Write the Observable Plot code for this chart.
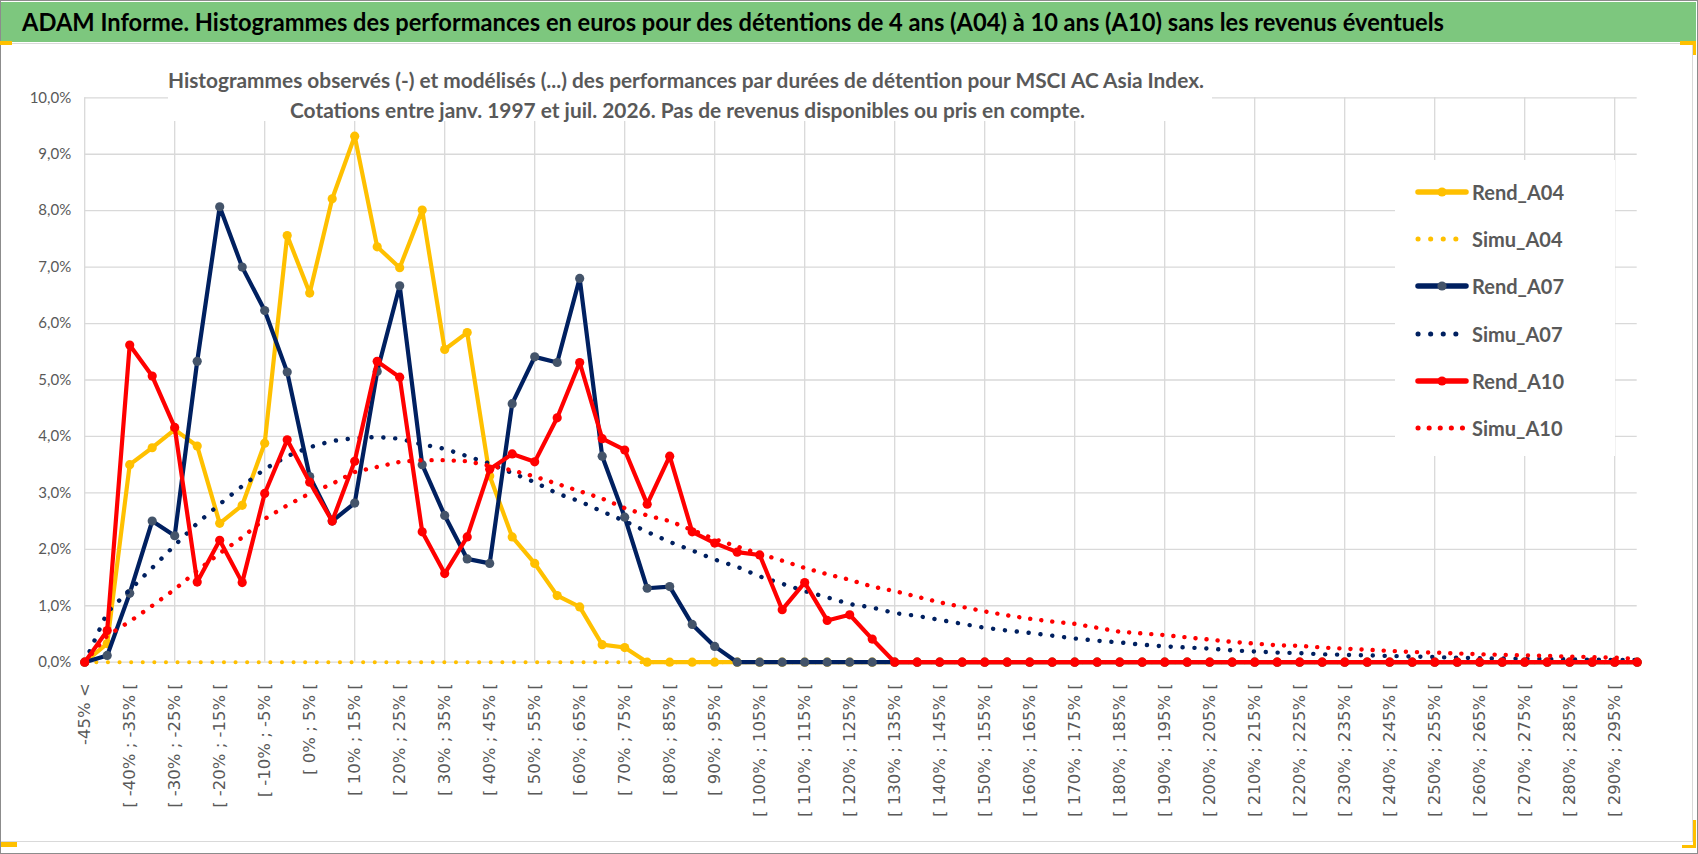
<!DOCTYPE html>
<html>
<head>
<meta charset="utf-8">
<script src="https://cdn.jsdelivr.net/npm/d3@7"></script>
<script src="https://cdn.jsdelivr.net/npm/@observablehq/plot@0.6"></script>
<style>
  html, body { margin: 0; padding: 0; background: #fff; }
  #wrap { position: relative; width: 1698px; height: 854px; overflow: hidden; background: #fff; }
  #chart { position: absolute; left: 0; top: 0; }
  .abs { position: absolute; }
  .txt { position: absolute; white-space: nowrap; display: inline-block; }
</style>
</head>
<body>
<div id="wrap">
  <div id="chart"></div>
  <div class="abs" id="greenbar" style="left:1px;top:2px;width:1695px;height:40px;background:#7DC77E;"></div>
  <span class="txt" id="title" style="left:22px;top:6px;font:bold 25px Lato,'Open Sans',sans-serif;line-height:30px;color:#000;">ADAM Informe. Histogrammes des performances en euros pour des détentions de 4 ans (A04) à 10 ans (A10) sans les revenus éventuels</span>
  <div class="abs" id="subbox" style="left:168px;top:56px;width:1044px;height:65px;background:#fff;"></div>
  <span class="txt" id="sub1" style="left:168px;top:68px;font:bold 20px Lato,'Open Sans',sans-serif;line-height:24px;color:#595959;">Histogrammes observés (-) et modélisés (...) des performances par durées de détention pour MSCI AC Asia Index.</span>
  <span class="txt" id="sub2" style="left:290px;top:98px;font:bold 20px Lato,'Open Sans',sans-serif;line-height:24px;color:#595959;">Cotations entre janv. 1997 et juil. 2026. Pas de revenus disponibles ou pris en compte.</span>
  <div class="abs" id="legend" style="left:1395px;top:160px;width:220px;height:296px;background:#fff;"></div>
  <div class="abs" style="left:1px;top:43px;width:1692px;height:799px;border:1.5px solid #D9D9D9;box-sizing:border-box;border-left:none;"></div>
  <div class="abs" style="left:0;top:0;width:1698px;height:854px;border:1.5px solid #8C8C8C;box-sizing:border-box;"></div>
  <div class="abs" style="left:0;top:41px;width:12px;height:4px;background:#FFC000;"></div>
  <div class="abs" style="left:1680px;top:41px;width:16px;height:3.5px;background:#FFC000;"></div>
  <div class="abs" style="left:1692.5px;top:41px;width:3.5px;height:14px;background:#FFC000;"></div>
  <div class="abs" style="left:1px;top:842px;width:16px;height:5px;background:#FFC000;"></div>
  <div class="abs" style="left:1692.5px;top:820px;width:3.5px;height:28px;background:#FFC000;"></div>
  <div class="abs" style="left:1682px;top:844.5px;width:14px;height:3.5px;background:#FFC000;"></div>
</div>
<script>
// ---------- DATA ----------
const categories = [
  "-45% <",
  "[ -45% ; -40% [", "[ -40% ; -35% [", "[ -35% ; -30% [", "[ -30% ; -25% [", "[ -25% ; -20% [",
  "[ -20% ; -15% [", "[ -15% ; -10% [", "[ -10% ; -5% [", "[ -5% ; 0% [", "[ 0% ; 5% [",
  "[ 5% ; 10% [", "[ 10% ; 15% [", "[ 15% ; 20% [", "[ 20% ; 25% [", "[ 25% ; 30% [",
  "[ 30% ; 35% [", "[ 35% ; 40% [", "[ 40% ; 45% [", "[ 45% ; 50% [", "[ 50% ; 55% [",
  "[ 55% ; 60% [", "[ 60% ; 65% [", "[ 65% ; 70% [", "[ 70% ; 75% [", "[ 75% ; 80% [",
  "[ 80% ; 85% [", "[ 85% ; 90% [", "[ 90% ; 95% [", "[ 95% ; 100% [", "[ 100% ; 105% [",
  "[ 105% ; 110% [", "[ 110% ; 115% [", "[ 115% ; 120% [", "[ 120% ; 125% [", "[ 125% ; 130% [",
  "[ 130% ; 135% [", "[ 135% ; 140% [", "[ 140% ; 145% [", "[ 145% ; 150% [", "[ 150% ; 155% [",
  "[ 155% ; 160% [", "[ 160% ; 165% [", "[ 165% ; 170% [", "[ 170% ; 175% [", "[ 175% ; 180% [",
  "[ 180% ; 185% [", "[ 185% ; 190% [", "[ 190% ; 195% [", "[ 195% ; 200% [", "[ 200% ; 205% [",
  "[ 205% ; 210% [", "[ 210% ; 215% [", "[ 215% ; 220% [", "[ 220% ; 225% [", "[ 225% ; 230% [",
  "[ 230% ; 235% [", "[ 235% ; 240% [", "[ 240% ; 245% [", "[ 245% ; 250% [", "[ 250% ; 255% [",
  "[ 255% ; 260% [", "[ 260% ; 265% [", "[ 265% ; 270% [", "[ 270% ; 275% [", "[ 275% ; 280% [",
  "[ 280% ; 285% [", "[ 285% ; 290% [", "[ 290% ; 295% [", "[ 295% ; 300% ["
];

const rendA04 = [
  0, 0.33, 3.50, 3.80, 4.12, 3.83, 2.46, 2.78, 3.88, 7.56,
  6.54, 8.21, 9.32, 7.36, 6.99, 8.01, 5.54, 5.84, 3.30, 2.22,
  1.75, 1.18, 0.98, 0.31, 0.26, 0, 0, 0, 0, 0,
  0, 0, 0, 0, 0, 0, 0, 0, 0, 0,
  0, 0, 0, 0, 0, 0, 0, 0, 0, 0,
  0, 0, 0, 0, 0, 0, 0, 0, 0, 0,
  0, 0, 0, 0, 0, 0, 0, 0, 0, 0
];
const simuA04 = [
  0, 0, 0, 0, 0, 0, 0, 0, 0, 0,
  0, 0, 0, 0, 0, 0, 0, 0, 0, 0,
  0, 0, 0, 0, 0, 0, 0, 0, 0, 0,
  0, 0, 0, 0, 0, 0, 0, 0, 0, 0,
  0, 0, 0, 0, 0, 0, 0, 0, 0, 0,
  0, 0, 0, 0, 0, 0, 0, 0, 0, 0,
  0, 0, 0, 0, 0, 0, 0, 0, 0, 0
];
const rendA07 = [
  0, 0.12, 1.22, 2.50, 2.24, 5.33, 8.07, 7.00, 6.23, 5.14,
  3.29, 2.50, 2.82, 5.15, 6.67, 3.50, 2.60, 1.83, 1.75, 4.58,
  5.41, 5.31, 6.80, 3.65, 2.57, 1.31, 1.34, 0.67, 0.28, 0,
  0, 0, 0, 0, 0, 0, 0, 0, 0, 0,
  0, 0, 0, 0, 0, 0, 0, 0, 0, 0,
  0, 0, 0, 0, 0, 0, 0, 0, 0, 0,
  0, 0, 0, 0, 0, 0, 0, 0, 0, 0
];
const simuA07 = [
  0, 0.88, 1.28, 1.67, 2.07, 2.46, 2.80, 3.12, 3.42, 3.65,
  3.81, 3.92, 3.97, 3.99, 3.96, 3.86, 3.78, 3.65, 3.52, 3.35,
  3.19, 2.99, 2.85, 2.67, 2.50, 2.31, 2.13, 1.98, 1.82, 1.69,
  1.52, 1.39, 1.26, 1.15, 1.03, 0.97, 0.87, 0.82, 0.75, 0.68,
  0.61, 0.56, 0.52, 0.47, 0.42, 0.38, 0.35, 0.31, 0.28, 0.26,
  0.24, 0.21, 0.19, 0.17, 0.16, 0.14, 0.13, 0.12, 0.11, 0.10,
  0.09, 0.08, 0.07, 0.065, 0.06, 0.055, 0.05, 0.045, 0.04, 0.04
];
const rendA10 = [
  0, 0.56, 5.62, 5.07, 4.16, 1.42, 2.16, 1.41, 2.99, 3.94,
  3.19, 2.50, 3.56, 5.33, 5.05, 2.31, 1.57, 2.22, 3.42, 3.69,
  3.55, 4.33, 5.31, 3.96, 3.76, 2.80, 3.65, 2.31, 2.11, 1.95,
  1.90, 0.93, 1.41, 0.74, 0.84, 0.41, 0, 0, 0, 0,
  0, 0, 0, 0, 0, 0, 0, 0, 0, 0,
  0, 0, 0, 0, 0, 0, 0, 0, 0, 0,
  0, 0, 0, 0, 0, 0, 0, 0, 0, 0
];
const simuA10 = [
  0, 0.47, 0.72, 1.00, 1.29, 1.62, 1.93, 2.21, 2.54, 2.78,
  2.99, 3.16, 3.37, 3.46, 3.55, 3.58, 3.58, 3.56, 3.48, 3.40,
  3.29, 3.16, 3.03, 2.90, 2.73, 2.60, 2.50, 2.34, 2.18, 2.05,
  1.92, 1.80, 1.67, 1.56, 1.46, 1.34, 1.26, 1.16, 1.06, 0.98,
  0.90, 0.83, 0.77, 0.72, 0.68, 0.61, 0.54, 0.51, 0.48, 0.44,
  0.40, 0.36, 0.33, 0.30, 0.29, 0.26, 0.24, 0.22, 0.20, 0.18,
  0.17, 0.155, 0.14, 0.13, 0.12, 0.11, 0.10, 0.09, 0.08, 0.06
];
const yTicks = [0, 1, 2, 3, 4, 5, 6, 7, 8, 9, 10];
const seriesNames = ["Rend_A04", "Simu_A04", "Rend_A07", "Simu_A07", "Rend_A10", "Simu_A10"];

// ---------- STYLES ----------
const YELLOW = "#FFC000", NAVY = "#002060", RED = "#FF0000";
const styles = {
  Rend_A04: {kind: "rend", stroke: YELLOW, marker: YELLOW},
  Simu_A04: {kind: "simu", stroke: YELLOW, width: 4, dash: "0.1 11.5"},
  Rend_A07: {kind: "rend", stroke: NAVY, marker: "#44546A"},
  Simu_A07: {kind: "simu", stroke: NAVY, width: 4.4, dash: "0.1 11.8"},
  Rend_A10: {kind: "rend", stroke: RED, marker: RED},
  Simu_A10: {kind: "simu", stroke: RED, width: 4.4, dash: "0.1 11"}
};
const seriesValues = {
  Rend_A04: rendA04, Simu_A04: simuA04, Rend_A07: rendA07,
  Simu_A07: simuA07, Rend_A10: rendA10, Simu_A10: simuA10
};

const rows = name => seriesValues[name].map((v, i) => ({cat: categories[i], v}));
const xTicks = categories.filter((d, i) => i % 2 === 0);
const gridTicks = categories.filter((d, i) => i % 4 === 0);
const fmtY = d => d.toFixed(1).replace(".", ",") + "%";

const marks = [
  Plot.gridY(yTicks, {stroke: "#D9D9D9", strokeOpacity: 1, strokeWidth: 1.3}),
  Plot.gridX(gridTicks, {stroke: "#D9D9D9", strokeOpacity: 1, strokeWidth: 1.3}),
  Plot.axisX(xTicks, {tickRotate: -90, tickSize: 0, tickPadding: 21, label: null,
    fontFamily: "DejaVu Sans", fontSize: 16.5, fill: "#595959"}),
  Plot.axisY(yTicks, {tickSize: 0, tickPadding: 13.5, label: null, tickFormat: fmtY,
    fontFamily: "Lato", fontSize: 15, fill: "#595959"})
];
for (const name of seriesNames) {
  const s = styles[name];
  const data = rows(name);
  if (s.kind === "rend") {
    marks.push(Plot.line(data, {x: "cat", y: "v", stroke: s.stroke, strokeWidth: 4.2, strokeLinejoin: "round", strokeLinecap: "round"}));
    marks.push(Plot.dot(data, {x: "cat", y: "v", r: 4.6, fill: s.marker, stroke: null}));
  } else {
    marks.push(Plot.line(data, {x: "cat", y: "v", stroke: s.stroke, strokeWidth: s.width, strokeDasharray: s.dash, strokeLinecap: "round"}));
  }
}

const chart = Plot.plot({
  width: 1698,
  height: 854,
  marginLeft: 84.2,
  marginRight: 61.3,
  marginTop: 97.3,
  marginBottom: 192.3,
  style: {background: "transparent", color: "#595959", overflow: "visible"},
  x: {type: "point", domain: categories, padding: 0},
  y: {domain: [0, 10]},
  marks
});
document.getElementById("chart").appendChild(chart);

// ---------- LEGEND ----------
const legend = document.getElementById("legend");
const legendLeft = 1395, legendTop = 160;
seriesNames.forEach((name, i) => {
  const s = styles[name];
  const cy = 191.7 + 47.3 * i - legendTop;
  const ns = "http://www.w3.org/2000/svg";
  const svg = document.createElementNS(ns, "svg");
  svg.setAttribute("width", 60); svg.setAttribute("height", 20);
  svg.style.position = "absolute";
  svg.style.left = (1412 - legendLeft) + "px";
  svg.style.top = (cy - 10) + "px";
  const line = document.createElementNS(ns, "line");
  line.setAttribute("y1", 10); line.setAttribute("y2", 10);
  line.setAttribute("stroke", s.stroke);
  if (s.kind === "rend") {
    line.setAttribute("x1", 6); line.setAttribute("x2", 54);
    line.setAttribute("stroke-width", 5.5);
    line.setAttribute("stroke-linecap", "round");
    svg.appendChild(line);
    const c = document.createElementNS(ns, "circle");
    c.setAttribute("cx", 30); c.setAttribute("cy", 10); c.setAttribute("r", 4.6);
    c.setAttribute("fill", s.marker);
    svg.appendChild(c);
  } else {
    line.setAttribute("x1", 6); line.setAttribute("x2", 52);
    line.setAttribute("stroke-width", 5);
    line.setAttribute("stroke-dasharray", name === "Simu_A10" ? "0.1 11" : "0.1 12.5");
    line.setAttribute("stroke-linecap", "round");
    svg.appendChild(line);
  }
  legend.appendChild(svg);
  const t = document.createElement("span");
  t.className = "txt legtxt";
  t.textContent = name;
  t.style.left = (1472 - legendLeft) + "px";
  t.style.top = (cy - 13) + "px";
  t.style.font = "bold 21px Lato, 'Open Sans', sans-serif";
  t.style.lineHeight = "26px";
  t.style.color = "#595959";
  legend.appendChild(t);
});

// ---------- fit text widths ----------
function fitWidth(el, target) {
  const w = el.getBoundingClientRect().width;
  el.style.transformOrigin = "left center";
  el.style.transform = `scaleX(${target / w})`;
}
fitWidth(document.getElementById("title"), 1422);
fitWidth(document.getElementById("sub1"), 1036);
fitWidth(document.getElementById("sub2"), 795);
const legTexts = document.querySelectorAll(".legtxt");
const k = 92 / legTexts[0].getBoundingClientRect().width;
legTexts.forEach(el => { el.style.transformOrigin = "left center"; el.style.transform = `scaleX(${k})`; });
</script>
</body>
</html>
